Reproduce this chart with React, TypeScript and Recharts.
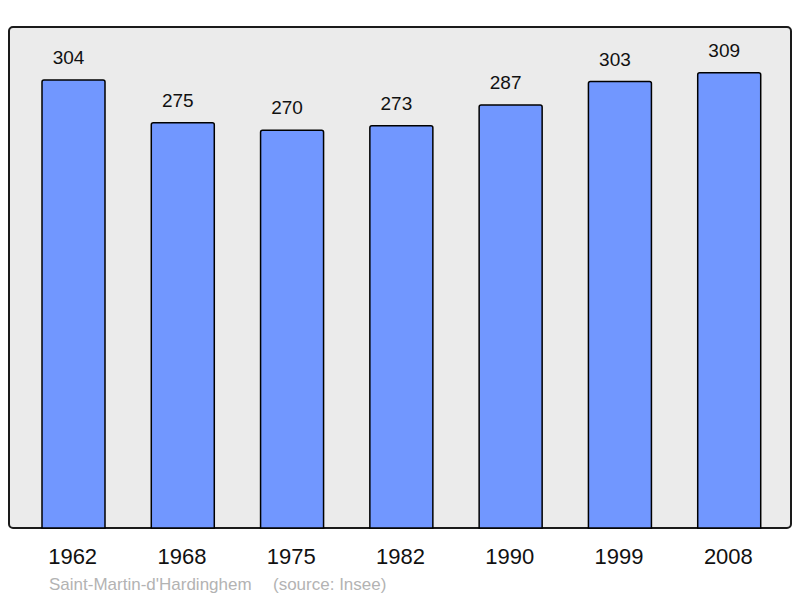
import React from 'react';
import { BarChart, Bar, XAxis, YAxis, LabelList } from 'recharts';

// census years and population counts
const years = ['1962', '1968', '1975', '1982', '1990', '1999', '2008'];
const population = [304, 275, 270, 273, 287, 303, 309];

const data = years.map((year, i) => ({ year, population: population[i] }));

const font = '"Liberation Sans", Arial, sans-serif';

const ValueLabel = (props: any) => {
  const { x, y, width, value } = props;
  return (
    <text
      x={x + width / 2 - 5}
      y={y - 16}
      textAnchor="middle"
      fill="#111"
      fontSize={19}
      fontFamily={font}
    >
      {value}
    </text>
  );
};

export default function App() {
  return (
    <div style={{ position: 'absolute', left: 0, top: 0, width: 800, height: 598, fontFamily: font }}>
      {/* grey panel behind the plot */}
      <div
        style={{
          position: 'absolute',
          left: 8,
          top: 26,
          width: 780,
          height: 499,
          background: '#ebebeb',
          border: '2px solid #1a1a1a',
          borderRadius: 5,
        }}
      />
      <div style={{ position: 'absolute', left: 0, top: 0 }}>
        <BarChart
          width={800}
          height={598}
          data={data}
          margin={{ top: 27, right: 9, bottom: 40, left: 9 }}
          barSize={63}
        >
          <XAxis
            dataKey="year"
            height={30}
            axisLine={false}
            tickLine={false}
            tickSize={0}
            tickMargin={20}
            padding={{ left: 10, right: 7 }}
            tick={{ fill: '#111', fontSize: 22, fontFamily: font, dx: -1 }}
          />
          <YAxis hide domain={[0, 340]} />
          <Bar
            dataKey="population"
            fill="#7197ff"
            stroke="#000"
            strokeWidth={1.5}
            radius={[2, 2, 0, 0]}
            isAnimationActive={false}
          >
            <LabelList dataKey="population" content={ValueLabel} />
          </Bar>
        </BarChart>
      </div>
      <div style={{ position: 'absolute', left: 49, top: 575, fontSize: 17, color: '#b3b3b3' }}>
        Saint-Martin-d'Hardinghem
      </div>
      <div style={{ position: 'absolute', left: 273, top: 575, fontSize: 17, color: '#b3b3b3' }}>
        (source: Insee)
      </div>
    </div>
  );
}
